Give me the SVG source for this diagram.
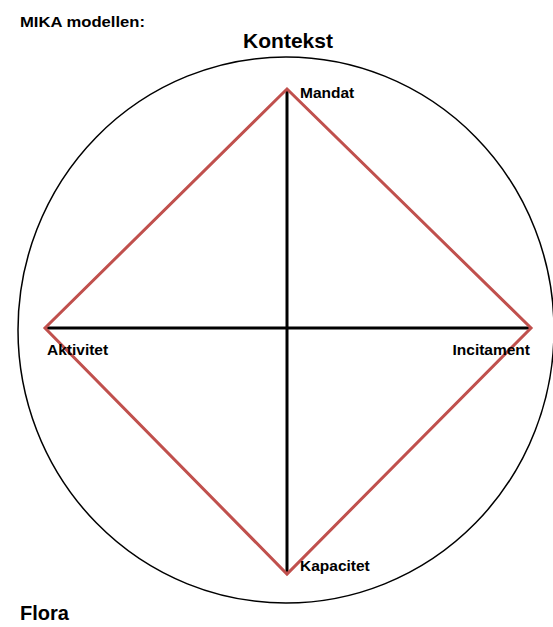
<svg xmlns="http://www.w3.org/2000/svg" width="553" height="627" viewBox="0 0 553 627">
<style>
.lbl{font-family:"Liberation Sans",Arial,sans-serif;font-weight:bold;font-size:15.5px;fill:#000}
.big{font-family:"Liberation Sans",Arial,sans-serif;font-weight:bold;font-size:21px;fill:#000}
.axis{stroke:#000;stroke-width:3;fill:none}
.red{stroke:#c0504d;stroke-width:3;fill:none;stroke-linejoin:miter}
</style>
<rect width="553" height="627" fill="#fff"/>
<g id="title"><text class="lbl" x="20" y="27" style="font-size:15px" textLength="125" lengthAdjust="spacingAndGlyphs">MIKA modellen:</text></g>
<g id="kontekst">
<ellipse cx="286" cy="330" rx="268" ry="273" fill="none" stroke="#000" stroke-width="1.5"/>
<text class="big" x="288" y="48" text-anchor="middle">Kontekst</text>
</g>
<g id="connectors">
<line class="axis" x1="287" y1="89" x2="287" y2="574"/>
<line class="axis" x1="45" y1="328" x2="531" y2="328"/>
<polygon class="red" points="287,89 531,328 287,574 45,328"/>
</g>
<g id="mandat"><text class="lbl" x="300" y="98">Mandat</text></g>
<g id="aktivitet"><text class="lbl" x="47" y="355">Aktivitet</text></g>
<g id="incitament"><text class="lbl" x="530" y="355" text-anchor="end">Incitament</text></g>
<g id="kapacitet"><text class="lbl" x="300" y="571">Kapacitet</text></g>
<g id="flora"><text class="big" x="20" y="620" style="font-size:20px">Flora</text></g>
</svg>
